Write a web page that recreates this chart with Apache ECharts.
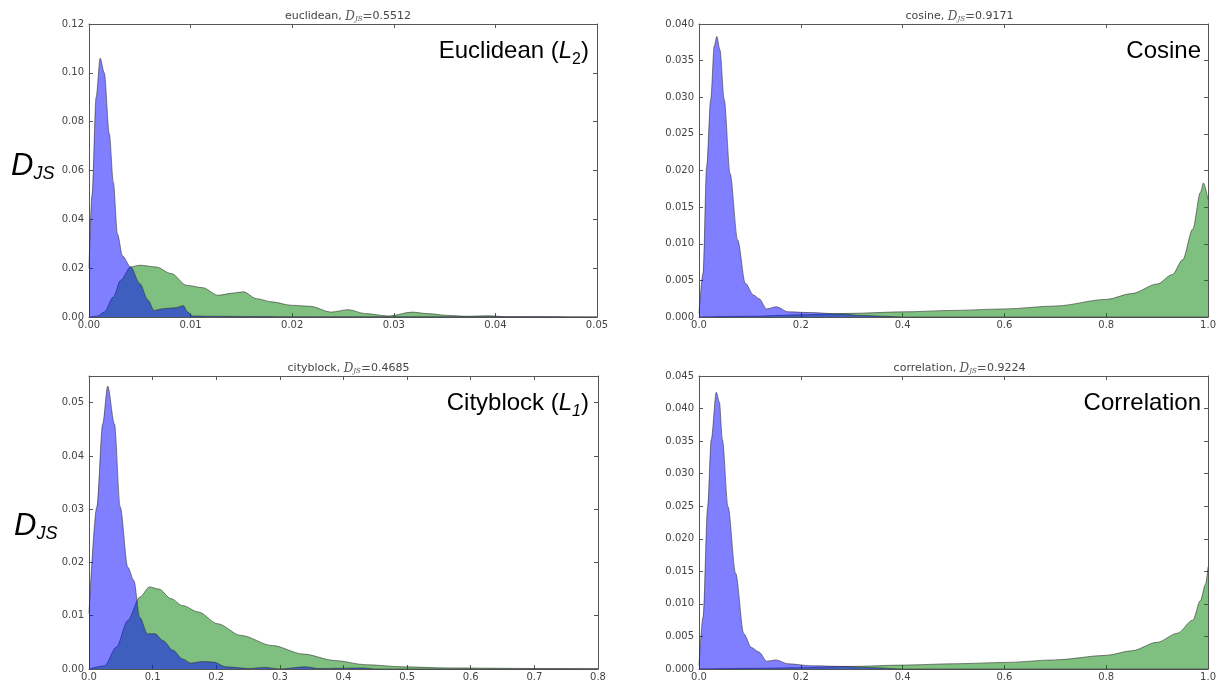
<!DOCTYPE html>
<html>
<head>
<meta charset="utf-8">
<script src="https://cdn.jsdelivr.net/npm/echarts@6/dist/echarts.min.js"></script>
<style>
  html, body { margin: 0; padding: 0; background: #fff; }
  #main { width: 1219px; height: 686px; }
</style>
</head>
<body>
<div id="main"></div>
<script>
// 每个面板的两条密度曲线 [x, y]
var eucBlue = [[0,0.02],[0.0003,0.05],[0.0007,0.09],[0.0011,0.106],[0.0015,0.1],[0.002,0.075],[0.0024,0.055],[0.0028,0.034],[0.0033,0.025],[0.0041,0.0205],[0.005,0.0137],[0.0058,0.007],[0.0064,0.0027],[0.0073,0.0034],[0.0085,0.0038],[0.0093,0.0046],[0.0097,0.002],[0.0102,0.0004],[0.012,0.0003],[0.016,0.0002],[0.02,0.0001],[0.03,0.0001],[0.04,0.0001],[0.05,0]];
var eucGreen = [[0,0],[0.0008,0.0003],[0.0015,0.002],[0.0024,0.0082],[0.0031,0.015],[0.0041,0.0205],[0.005,0.0212],[0.0066,0.0205],[0.0081,0.0178],[0.0096,0.013],[0.0112,0.012],[0.0127,0.0089],[0.0142,0.0098],[0.0152,0.0103],[0.0165,0.0075],[0.018,0.0062],[0.0199,0.0048],[0.0218,0.0044],[0.0238,0.002],[0.0255,0.003],[0.0272,0.0014],[0.0295,0.0004],[0.0318,0.002],[0.0333,0.0014],[0.0352,0.0007],[0.0371,0.0003],[0.0394,0.0005],[0.041,0.0001],[0.05,0]];

var cosBlue = [[0,0.0005],[0.008,0.006],[0.015,0.0205],[0.023,0.0297],[0.03,0.037],[0.035,0.0383],[0.041,0.0365],[0.0495,0.0297],[0.061,0.0196],[0.076,0.0105],[0.091,0.0046],[0.107,0.003],[0.118,0.0025],[0.133,0.0011],[0.152,0.0014],[0.175,0.0007],[0.22,0.0006],[0.28,0.0004],[0.32,0.0002],[0.36,0.0001],[0.4,0],[1,0]];
var cosGreen = [[0,0],[0.1,0.0001],[0.2,0.0003],[0.3,0.0005],[0.4,0.0007],[0.5,0.0009],[0.6,0.0011],[0.7,0.0015],[0.8,0.0024],[0.85,0.0032],[0.9,0.0045],[0.93,0.0058],[0.95,0.0078],[0.97,0.012],[0.985,0.017],[0.991,0.0183],[1,0.016]];

var cityBlue = [[0,0.0104],[0.0123,0.0304],[0.0215,0.046],[0.0294,0.0531],[0.04,0.046],[0.049,0.0304],[0.061,0.0191],[0.0705,0.0166],[0.0797,0.0097],[0.092,0.0066],[0.104,0.0066],[0.1165,0.0053],[0.132,0.0035],[0.147,0.0019],[0.16,0.0011],[0.178,0.0014],[0.196,0.0013],[0.215,0.0004],[0.25,0.0001],[0.276,0.0003],[0.3,0],[0.34,0.0004],[0.36,0.0001],[0.432,0.0002],[0.45,0],[0.8,0]];
var cityGreen = [[0,0],[0.0245,0.0006],[0.043,0.0041],[0.061,0.0091],[0.08,0.0135],[0.095,0.0154],[0.11,0.015],[0.129,0.0132],[0.147,0.0119],[0.172,0.0107],[0.202,0.0085],[0.239,0.0063],[0.288,0.0044],[0.337,0.0028],[0.386,0.0016],[0.435,0.0008],[0.496,0.0004],[0.564,0.0002],[0.7,0.0001],[0.8,0.0001]];

var corrBlue = [[0,0.0005],[0.008,0.008],[0.017,0.0249],[0.024,0.0352],[0.034,0.0425],[0.04,0.041],[0.046,0.0352],[0.057,0.0249],[0.072,0.0147],[0.088,0.0054],[0.103,0.0033],[0.118,0.0026],[0.133,0.0012],[0.151,0.0014],[0.175,0.0008],[0.221,0.0005],[0.282,0.0004],[0.343,0.0002],[0.4,0],[1,0]];
var corrGreen = [[0,0],[0.1,0.0001],[0.2,0.0002],[0.3,0.0004],[0.4,0.0006],[0.5,0.0008],[0.6,0.001],[0.7,0.0014],[0.8,0.0021],[0.85,0.0028],[0.9,0.0041],[0.94,0.0055],[0.97,0.0075],[0.985,0.0105],[0.995,0.013],[1,0.0157]];

// 面板名称、D_JS 值、坐标范围
var panelNames = ['euclidean', 'cosine', 'cityblock', 'correlation'];
var panelDjs = ['0.5512', '0.9171', '0.4685', '0.9224'];
var xMax = [0.05, 1.0, 0.8, 1.0];
var xStep = [0.01, 0.2, 0.1, 0.2];
var xDigits = [2, 1, 1, 1];
var yMax = [0.12, 0.04, 0.055, 0.045];
var yStep = [0.02, 0.005, 0.01, 0.005];
var yDigits = [2, 3, 2, 3];

var blueSets = [eucBlue, cosBlue, cityBlue, corrBlue];
var greenSets = [eucGreen, cosGreen, cityGreen, corrGreen];

var grids = [
    {left: 89, top: 24, width: 508, height: 293},
    {left: 699, top: 24, width: 511, height: 293},
    {left: 89, top: 376, width: 509, height: 293},
    {left: 699, top: 376, width: 511, height: 293}
];

var myChart = echarts.init(document.getElementById('main'));

var frameLine = {show: true, onZero: false, lineStyle: {color: '#555', width: 1}};
var tickIn = {show: true, inside: true, length: 4, lineStyle: {color: '#555'}};

var xAxes = [], yAxes = [], series = [], titles = [];

for (var i = 0; i < 4; i++) {
    (function (i) {
        var xd = xDigits[i], yd = yDigits[i];
        // 下方、上方 x 轴
        xAxes.push({
            gridIndex: i, type: 'value', min: 0, max: xMax[i], interval: xStep[i],
            axisLine: frameLine, axisTick: tickIn, splitLine: {show: false},
            axisLabel: {
                fontFamily: 'DejaVu Sans', fontSize: 10, color: '#444', margin: 3,
                formatter: function (v) { return v.toFixed(xd); }
            }
        });
        xAxes.push({
            gridIndex: i, type: 'value', position: 'top', min: 0, max: xMax[i], interval: xStep[i],
            axisLine: frameLine, axisTick: tickIn, splitLine: {show: false},
            axisLabel: {show: false}
        });
        // 左、右 y 轴
        yAxes.push({
            gridIndex: i, type: 'value', min: 0, max: yMax[i], interval: yStep[i],
            axisLine: frameLine, axisTick: tickIn, splitLine: {show: false},
            axisLabel: {
                fontFamily: 'DejaVu Sans', fontSize: 10, color: '#444', margin: 5,
                showMaxLabel: i !== 2,
                formatter: function (v) { return v.toFixed(yd); }
            }
        });
        yAxes.push({
            gridIndex: i, type: 'value', position: 'right', min: 0, max: yMax[i], interval: yStep[i],
            axisLine: frameLine, axisTick: tickIn, splitLine: {show: false},
            axisLabel: {show: false}
        });

        // 先画绿色，再画蓝色
        series.push({
            type: 'line', xAxisIndex: i * 2, yAxisIndex: i * 2,
            data: greenSets[i], smooth: 0.3, smoothMonotone: 'x', symbol: 'none',
            lineStyle: {color: 'rgba(40,40,40,0.55)', width: 1},
            areaStyle: {color: 'rgba(0,128,0,0.5)', opacity: 1},
            z: 2
        });
        series.push({
            type: 'line', xAxisIndex: i * 2, yAxisIndex: i * 2,
            data: blueSets[i], smooth: 0.3, smoothMonotone: 'x', symbol: 'none',
            lineStyle: {color: 'rgba(40,40,40,0.55)', width: 1},
            areaStyle: {color: 'rgba(0,0,255,0.5)', opacity: 1},
            z: 3
        });

        // 小标题
        var g = grids[i];
        titles.push({
            left: g.left + g.width / 2, top: g.top - 19, textAlign: 'center',
            text: panelNames[i] + ', {d|D}{s|JS}{e|=}' + panelDjs[i],
            textStyle: {
                fontFamily: 'DejaVu Sans', fontSize: 11, fontWeight: 'normal', color: '#444',
                rich: {
                    d: {fontFamily: 'DejaVu Serif', fontStyle: 'italic', fontWeight: 'normal', fontSize: 12, color: '#555'},
                    s: {fontFamily: 'DejaVu Serif', fontStyle: 'italic', fontWeight: 'normal', fontSize: 7, color: '#555', padding: [6, 0, 0, 0]},
                    e: {fontFamily: 'DejaVu Serif', fontWeight: 'normal', fontSize: 12, color: '#555'}
                }
            }
        });
    })(i);
}

// 右上角的大字标签
var bigRich = {
    n: {fontFamily: 'Liberation Sans', fontSize: 24, fontWeight: 'normal', color: '#000'},
    l: {fontFamily: 'Liberation Sans', fontSize: 24, fontStyle: 'italic', fontWeight: 'normal', color: '#000'},
    sub: {fontFamily: 'Liberation Sans', fontSize: 16, fontWeight: 'normal', color: '#000', padding: [18, 0, 0, 0]},
    subi: {fontFamily: 'Liberation Sans', fontSize: 16, fontStyle: 'italic', fontWeight: 'normal', color: '#000', padding: [18, 0, 0, 0]}
};
var bigStyle = {fontWeight: 'normal', rich: bigRich};
titles.push({right: 1219 - 594, top: 29, text: '{n|Euclidean (}{l|L}{sub|2}{n|)}', textStyle: bigStyle});
titles.push({right: 1219 - 1206, top: 34, text: '{n|Cosine}', textStyle: bigStyle});
titles.push({right: 1219 - 594, top: 381, text: '{n|Cityblock (}{l|L}{subi|1}{n|)}', textStyle: bigStyle});
titles.push({right: 1219 - 1206, top: 386, text: '{n|Correlation}', textStyle: bigStyle});

// 纵轴名 D_JS
var djsRich = {
    D: {fontFamily: 'Liberation Sans', fontSize: 31, fontStyle: 'italic', fontWeight: 'normal', color: '#000'},
    s: {fontFamily: 'Liberation Sans', fontSize: 18, fontStyle: 'italic', fontWeight: 'normal', color: '#000', padding: [16, 0, 0, 0]}
};
titles.push({left: 6, top: 144, text: '{D|D}{s|JS}', textStyle: {fontWeight: 'normal', rich: djsRich}});
titles.push({left: 9, top: 504, text: '{D|D}{s|JS}', textStyle: {fontWeight: 'normal', rich: djsRich}});

option = {
    backgroundColor: '#fff',
    animation: false,
    title: titles,
    grid: grids,
    xAxis: xAxes,
    yAxis: yAxes,
    series: series
};
myChart.setOption(option);
</script>
</body>
</html>
